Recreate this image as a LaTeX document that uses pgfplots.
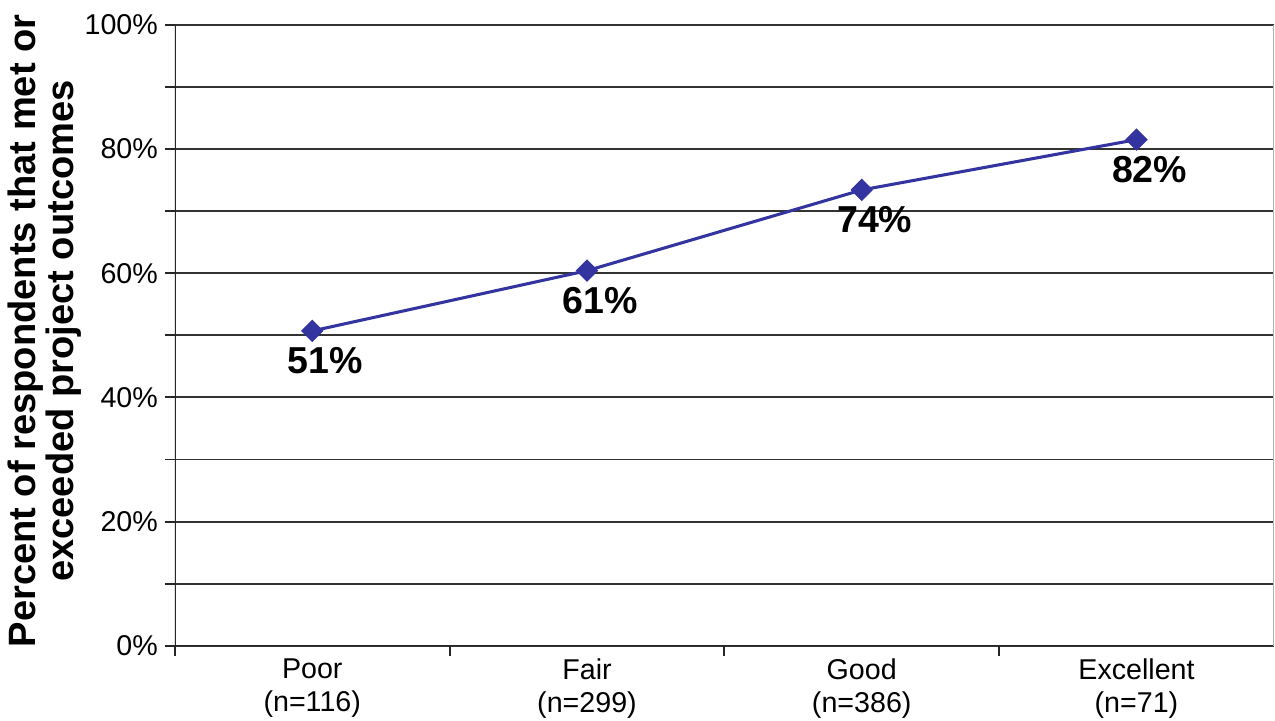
\documentclass[border=0pt]{standalone}
\usepackage{fontspec}
\setmainfont{Liberation Sans}
\usepackage{pgfplots}
\pgfplotsset{compat=1.18}
\definecolor{lineblue}{RGB}{52,52,160}
\begin{document}
\begin{tikzpicture}
\begin{axis}[
  scale only axis, width=395.3pt, height=223.4pt,
  xmin=-0.5, xmax=3.5, ymin=0, ymax=100,
  xtick={-0.5,0.5,1.5,2.5}, xticklabels={},
  extra x ticks={0,1,2,3},
  extra x tick labels={{Poor\\(n=116)},{Fair\\(n=299)},{Good\\(n=386)},{Excellent\\(n=71)}},
  extra x tick style={major tick length=0pt},
  xtick pos=bottom, ytick pos=left,
  ytick={0,20,...,100}, yticklabels={0\%,20\%,40\%,60\%,80\%,100\%},
  minor ytick={10,30,...,90},
  ymajorgrids, yminorgrids,
  major grid style={black!80, line width=0.7pt},
  minor grid style={black!80, line width=0.7pt},
  tick align=outside, major tick length=3.6pt, minor tick length=3.6pt,
  tick style={black!85, line width=0.7pt},
  axis line style={draw=none},
  tick label style={font=\fontsize{10.3}{11.9}\selectfont},
  xticklabel style={align=center, yshift=-1pt},
  yticklabel style={xshift=1pt},
  ylabel={Percent of respondents that met or\\exceeded project outcomes},
  ylabel style={font=\bfseries\fontsize{13.7}{10.8}\selectfont, align=center,
    at={(axis description cs:-0.1185,0.507)}, anchor=center},
]
\draw[black!85, line width=0.8pt] (rel axis cs:0,1) -- (rel axis cs:0,0) -- (rel axis cs:1,0);
\draw[black!30, line width=0.5pt] (rel axis cs:1,0) -- (rel axis cs:1,1);
\addplot[color=lineblue, line width=1.1pt, mark=square*, mark size=2.3pt,
  mark options={rotate=45, solid},
  nodes near coords, point meta=explicit symbolic,
  every node near coord/.append style={font=\bfseries\fontsize{13.5}{16}\selectfont, text=black,
    anchor=center, xshift=4.7pt, yshift=-10.6pt}]
  coordinates {(0,50.7) [51\%] (1,60.4) [61\%] (2,73.4) [74\%] (3,81.5) [82\%]};
\end{axis}
\pgfresetboundingbox
\path (-62.9pt,-27pt) rectangle (395.7pt,232.3pt);
\end{tikzpicture}
\end{document}
